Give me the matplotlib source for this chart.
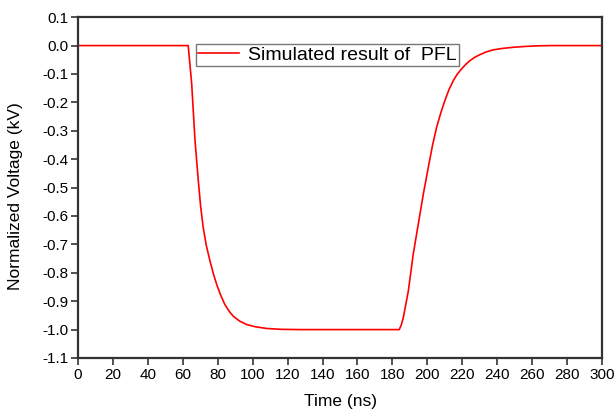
import matplotlib
matplotlib.use("Agg")
import matplotlib.pyplot as plt
import numpy as np

plt.rcParams['font.family'] = ['Liberation Sans', 'DejaVu Sans']

time_ns = [0, 20, 40, 60, 63.1, 65.1, 67, 68.9, 70.2, 71.7, 73.5, 75.6, 77.5, 79.4, 81.7, 84.1,
           86.5, 88.9, 92.5, 96.5, 101.5, 108, 116, 127,
           150, 170, 183.9, 185.0, 186.2, 189.1, 191.9, 194.8, 197.7, 200.5, 203.0, 205.3,
           207.7, 210, 212.4, 214.8, 217.2, 219.6, 222, 224.4, 227.2, 230.1, 233.8, 237.7,
           243, 249.2, 256, 262.5, 271, 285, 300]
voltage = [0, 0, 0, 0, 0, -0.135, -0.335, -0.477, -0.565, -0.641, -0.705, -0.759, -0.803,
           -0.841, -0.879, -0.912, -0.935, -0.953, -0.970, -0.982, -0.990, -0.996, -0.999, -1.0,
           -1.0, -1.0, -1.0, -0.985, -0.959, -0.865, -0.735, -0.629, -0.523, -0.43, -0.35,
           -0.288, -0.237, -0.194, -0.155, -0.124, -0.100, -0.082, -0.066, -0.053, -0.041,
           -0.032, -0.022, -0.015, -0.010, -0.006, -0.003, -0.001, 0, 0, 0]
series_label = "Simulated result of  PFL"
x_ticks = list(range(0, 301, 20))
y_ticks = [round(v, 1) for v in np.arange(-1.1, 0.11, 0.1)]

fig = plt.figure(figsize=(6.15, 4.09), dpi=100)
ax = fig.add_axes([0.1268, 0.1247, 0.8521, 0.8333])
ax.plot(time_ns, voltage, color='#ff0000', lw=1.2, label=series_label)
ax.set_xlim(0, 300)
ax.set_ylim(-1.1, 0.1)
ax.set_xticks(x_ticks)
ax.set_yticks(y_ticks)
ax.set_yticklabels([f"{v:.1f}" for v in y_ticks])
ax.tick_params(direction='out', length=5, width=1.2, color='#333333', labelsize=11,
               top=False, right=False, pad=2)
for s in ax.spines.values():
    s.set_color('#333333')
    s.set_linewidth(1.6)
ax.set_xlabel("Time (ns)", fontsize=12.5)
ax.xaxis.set_label_coords(0.5, -0.105)
ax.set_ylabel("Normalized Voltage (kV)", fontsize=12.5)
ax.yaxis.set_label_coords(-0.105, 0.475)
leg = ax.legend(loc='upper left', bbox_to_anchor=(0.2246, 0.921), borderaxespad=0,
                fontsize=14, frameon=True, fancybox=False, handlelength=2.1,
                borderpad=0.12, handletextpad=0.45)
leg.get_frame().set_edgecolor('#555555')
leg.get_frame().set_linewidth(1.0)
fig.savefig("out.png", dpi=100)
